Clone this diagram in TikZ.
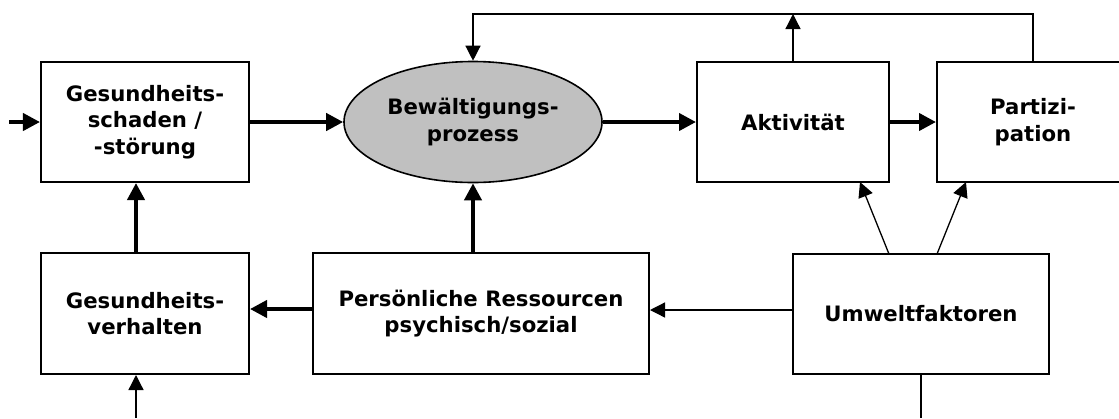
\documentclass[tikz,border=0pt]{standalone}
\usepackage{fontspec}
\setmainfont{DejaVu Sans}
\usetikzlibrary{arrows.meta,shapes.geometric}
\begin{document}
\begin{tikzpicture}[x=1bp,y=-1bp,
  box/.style={draw=black,line width=2bp,rectangle,inner sep=0pt,align=center,
    font=\fontsize{21.3}{26.7}\selectfont\bfseries},
  oval/.style={draw=black,line width=1.6bp,ellipse,fill=ovalgray,inner sep=0pt,align=center,
    font=\fontsize{21.3}{26.7}\selectfont\bfseries},
  heavy/.style={line width=4bp,-{Triangle[length=17bp,width=17bp]}},
  light/.style={line width=1.3bp,-{Triangle[length=15bp,width=15bp]}},
  plain/.style={line width=1.3bp}]
\definecolor{ovalgray}{RGB}{192,192,192}
\useasboundingbox (0,0) rectangle (1119,418);
\clip (0,0) rectangle (1119,418);
% nodes
\node[box,minimum width=208bp,minimum height=120bp] (gs) at (145,122) {Gesundheits-\\schaden /\\-störung};
\node[oval,minimum width=258bp,minimum height=121bp] (bp) at (473,122) {Bewältigungs-\\prozess};
\node[box,minimum width=192bp,minimum height=120bp] (ak) at (793,122) {Aktivität};
\node[box,minimum width=192bp,minimum height=120bp] (pa) at (1033,122) {Partizi-\\pation};
\node[box,minimum width=208bp,minimum height=121bp] (gv) at (145,313.5) {Gesundheits-\\verhalten};
\node[box,minimum width=336bp,minimum height=121bp] (pr) at (481,313.5) {Persönliche Ressourcen\\psychisch/sozial};
\node[box,minimum width=256bp,minimum height=120bp] (uw) at (921,314) {Umweltfaktoren};
% helper coordinates
\coordinate (inL) at (9,122);
\coordinate (topY) at (0,14);
\coordinate (xL) at (136,0);
\coordinate (botL) at (136,418);
\coordinate (yM) at (0,309);
\coordinate (yU) at (0,310);
\coordinate (u1) at (889,254);
\coordinate (a1) at (860,182);
\coordinate (u2) at (937,254);
\coordinate (p2) at (966,182);
\coordinate (botR) at (921,418);
% connectors
\draw[heavy] (inL) -- (gs.west);
\draw[heavy] (gs.east) -- (bp.west);
\draw[heavy] (bp.east) -- (ak.west);
\draw[heavy] (ak.east) -- (pa.west);
\draw[light] (ak.north) -- (ak.north |- topY);
\draw[light] (pa.north) -- (pa.north |- topY) -- (bp.north |- topY) -- (bp.north);
\draw[heavy] (gv.north -| xL) -- (gs.south -| xL);
\draw[light] (botL) -- (gv.south -| xL);
\draw[heavy] (pr.west |- yM) -- (gv.east |- yM);
\draw[heavy] (pr.north -| bp.south) -- (bp.south);
\draw[light] (uw.west |- yU) -- (pr.east |- yU);
\draw[light] (u1) -- (a1);
\draw[light] (u2) -- (p2);
\draw[plain] (uw.south -| botR) -- (botR);
\end{tikzpicture}
\end{document}
